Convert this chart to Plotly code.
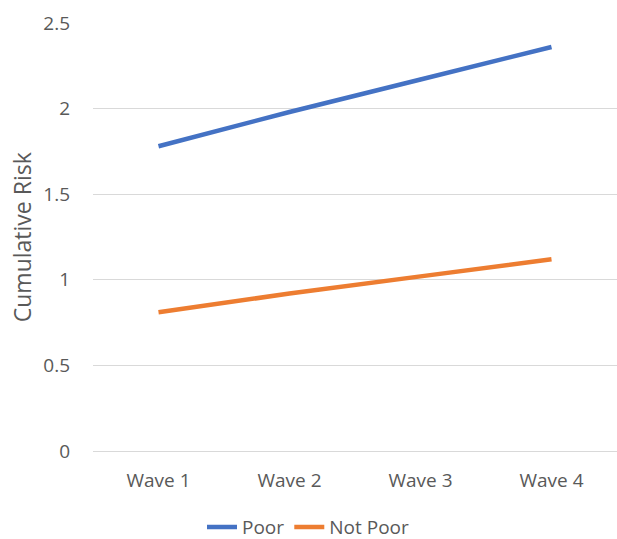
import plotly.graph_objects as go

waves = ["Wave 1", "Wave 2", "Wave 3", "Wave 4"]
poor = [1.78, 1.98, 2.17, 2.36]
not_poor = [0.81, 0.92, 1.02, 1.12]
y_ticks = [0, 0.5, 1, 1.5, 2, 2.5]
y_tick_text = ["0", "0.5", "1", "1.5", "2", "2.5"]

font_family = "Open Sans, Liberation Sans, sans-serif"
txt = "#595959"

fig = go.Figure()
fig.add_trace(go.Scatter(x=waves, y=poor, mode="lines", name="Poor",
                         line=dict(color="#4472C4", width=4.5)))
fig.add_trace(go.Scatter(x=waves, y=not_poor, mode="lines", name="Not Poor",
                         line=dict(color="#ED7D31", width=4.5)))

fig.update_layout(
    width=617, height=539,
    margin=dict(l=93, r=0, t=23, b=88, autoexpand=False),
    paper_bgcolor="white", plot_bgcolor="white",
    font=dict(family=font_family, size=19, color=txt),
    legend=dict(orientation="h", xref="container", x=0.5, xanchor="center",
                yref="container", y=0.022, yanchor="middle",
                font=dict(size=19, color=txt), tracegroupgap=0),
    showlegend=True,
)
fig.update_xaxes(range=[-0.5, 3.5], showgrid=False, zeroline=False,
                 showline=False, ticks="", ticklabelstandoff=16,
                 tickfont=dict(size=19, color=txt))
fig.update_yaxes(range=[0, 2.5], tickvals=y_ticks, ticktext=y_tick_text,
                 showgrid=True, gridcolor="#D9D9D9", gridwidth=1,
                 zeroline=True, zerolinecolor="#D9D9D9", zerolinewidth=1,
                 showline=False, ticks="", ticklabelstandoff=22,
                 tickfont=dict(size=19, color=txt))
fig.add_annotation(text="Cumulative Risk", textangle=-90, xref="paper", yref="paper",
                   x=-0.135, y=0.5, xanchor="center", yanchor="middle",
                   showarrow=False, font=dict(size=23, color=txt))

fig.write_html("out.html", config={"displayModeBar": False},
               post_script="document.body.style.margin='0';document.body.style.overflow='hidden';")
